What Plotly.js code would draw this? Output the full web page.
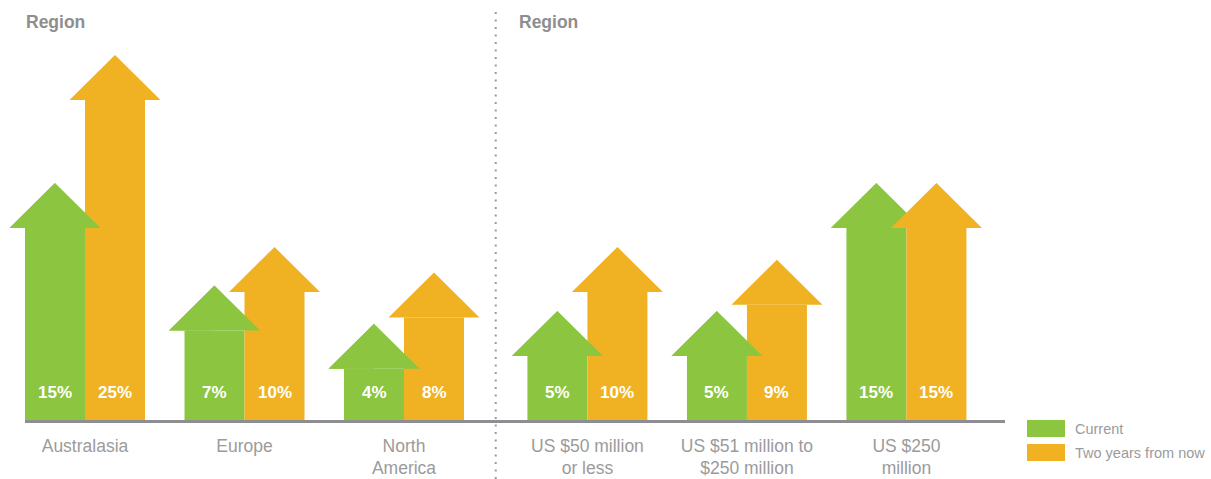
<!DOCTYPE html>
<html>
<head>
<meta charset="utf-8">
<script src="https://cdn.plot.ly/plotly-3.0.1.min.js"></script>
<style>html,body{margin:0;padding:0;background:#fff;}#chart{width:1211px;height:479px;}</style>
</head>
<body>
<div id="chart"></div>
<script>
// ---- data ----
const categories = ['Australasia', 'Europe', 'North<br>America', 'US $50 million<br>or less', 'US $51 million to<br>$250 million', 'US $250<br>million'];
const current = [15, 7, 4, 5, 5, 15];
const twoYears = [25, 10, 8, 10, 9, 15];
const seriesNames = ['Current', 'Two years from now'];
const groupTitles = ['Region', 'Region'];
const groupSizes = [3, 3];

// ---- style / layout constants ----
const GREEN = '#8cc540';
const ORANGE = '#f0b222';
const W = 1211, H = 479;
const M = {l: 0, r: 206, t: 10, b: 59};
const UNIT = 159.5;          // px per category step
const GAP = 0.15;            // extra gap between groups (category units)
const SHAFT = 60 / UNIT;     // shaft width (units)
const HEAD_HW = 45.5 / UNIT; // head half width (units)
const PX_PER_Y = 12.8;
const plotH = H - M.t - M.b;
const plotW = W - M.l - M.r;
const HEAD_H = 45 / PX_PER_Y; // head height (y units)
const font = 'Liberation Sans, Arial, sans-serif';

// positions of categories
const pos = [];
let gi = 0, acc = 0, offset = 0;
categories.forEach((c, i) => {
  if (i >= acc + groupSizes[gi]) { acc += groupSizes[gi]; gi++; offset += GAP; }
  pos.push(i + offset);
});
const xmin = -85 / UNIT;
const xmax = xmin + plotW / UNIT;
const ymax = plotH / PX_PER_Y;

function px2paperX(px) { return (px - M.l) / plotW; }
function px2paperY(py) { return (M.t + plotH - py) / plotH; }

function heads(vals, side, half) {
  const xs = [], ys = [];
  vals.forEach((v, i) => {
    const cx = pos[i] + side * SHAFT / 2;
    if (half) {
      xs.push(cx - HEAD_HW, cx, cx, null);
      ys.push(v, v + HEAD_H, v, null);
    } else {
      xs.push(cx - HEAD_HW, cx, cx + HEAD_HW, cx - HEAD_HW, null);
      ys.push(v, v + HEAD_H, v, v, null);
    }
  });
  return {x: xs, y: ys};
}

const traces = [
  {type: 'bar', name: seriesNames[0], x: pos, y: current, width: SHAFT, offset: -SHAFT,
   marker: {color: GREEN, line: {width: 0}}, hoverinfo: 'skip', showlegend: false},
  {type: 'bar', name: seriesNames[1], x: pos, y: twoYears, width: SHAFT, offset: 0,
   marker: {color: ORANGE, line: {width: 0}}, hoverinfo: 'skip', showlegend: false}
];
const hg = heads(current, -1, false), ho = heads(twoYears, 1, false), hgh = heads(current, -1, true);
[[hg, GREEN], [ho, ORANGE], [hgh, GREEN]].forEach(([h, col]) => {
  traces.push({type: 'scatter', mode: 'lines', x: h.x, y: h.y, fill: 'toself', fillcolor: col,
    line: {width: 0, color: col}, hoverinfo: 'skip', showlegend: false});
});

const annotations = [];
current.forEach((v, i) => {
  annotations.push({x: pos[i] - SHAFT / 2, y: 0, xref: 'x', yref: 'y', yshift: 28, text: v + '%',
    showarrow: false, xanchor: 'center', yanchor: 'middle',
    font: {family: font, size: 17, color: '#ffffff', weight: 'bold'}});
});
twoYears.forEach((v, i) => {
  annotations.push({x: pos[i] + SHAFT / 2, y: 0, xref: 'x', yref: 'y', yshift: 28, text: v + '%',
    showarrow: false, xanchor: 'center', yanchor: 'middle',
    font: {family: font, size: 17, color: '#ffffff', weight: 'bold'}});
});
// group titles
const titleX = [24, 517];
groupTitles.forEach((t, i) => {
  annotations.push({x: px2paperX(titleX[i]), y: px2paperY(22), xref: 'paper', yref: 'paper', text: t,
    showarrow: false, xanchor: 'left', yanchor: 'middle',
    font: {family: font, size: 17.5, color: '#8e8e8e', weight: 'bold'}});
});
// custom legend
const legCols = [GREEN, ORANGE];
const legY = [428.5, 452.5];
const shapes = [];
seriesNames.forEach((n, i) => {
  shapes.push({type: 'rect', xref: 'paper', yref: 'paper',
    x0: px2paperX(1027), x1: px2paperX(1065), y0: px2paperY(legY[i] - 8.5), y1: px2paperY(legY[i] + 8.5),
    fillcolor: legCols[i], line: {width: 0}});
  annotations.push({x: px2paperX(1073), y: px2paperY(legY[i]), xref: 'paper', yref: 'paper', text: n,
    showarrow: false, xanchor: 'left', yanchor: 'middle',
    font: {family: font, size: 14.5, color: '#9b9b9b'}});
});
// baseline (starts at the first shaft, runs to the right end of plot)
shapes.push({type: 'rect', xref: 'x', yref: 'paper', x0: pos[0] - SHAFT, x1: xmax,
  y0: px2paperY(420), y1: px2paperY(423), fillcolor: '#8e8e92', line: {width: 0}, layer: 'above'});
// divider between groups
const divX = (pos[groupSizes[0] - 1] + pos[groupSizes[0]]) / 2;
shapes.push({type: 'line', xref: 'x', yref: 'paper', x0: divX, x1: divX, y0: px2paperY(479), y1: px2paperY(10),
  line: {color: '#9a9a9a', width: 2, dash: '2px,5.5px'}});

const layout = {
  width: W, height: H,
  margin: M,
  paper_bgcolor: '#ffffff', plot_bgcolor: '#ffffff',
  showlegend: false,
  barmode: 'overlay',
  xaxis: {range: [xmin, xmax], tickvals: pos, ticktext: categories, showgrid: false, zeroline: false,
    showline: false, ticks: '', ticklabelstandoff: 13,
    tickfont: {family: font, size: 17.5, color: '#9b9b9b'}, fixedrange: true},
  yaxis: {range: [0, ymax], visible: false, showgrid: false, zeroline: false, fixedrange: true},
  annotations: annotations,
  shapes: shapes
};
Plotly.newPlot('chart', traces, layout, {displayModeBar: false, staticPlot: true});
</script>
</body>
</html>
